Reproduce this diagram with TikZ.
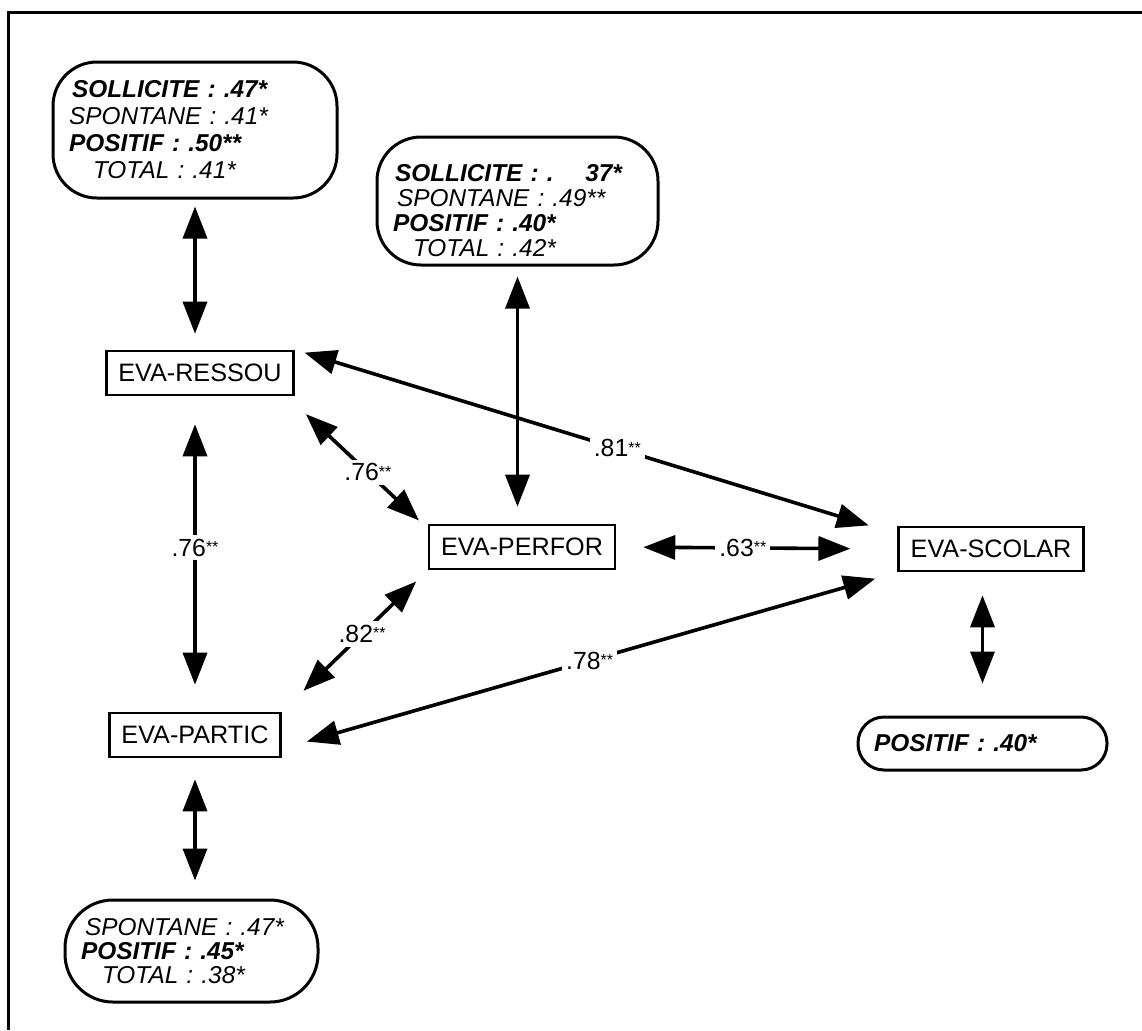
\documentclass[tikz,border=0pt]{standalone}
\usepackage{fontspec}
\setmainfont{Liberation Sans}
\usetikzlibrary{arrows.meta,positioning}

\newcommand{\stars}[1]{\raisebox{.3ex}{\footnotesize #1}}

\tikzset{
  varbox/.style={draw, line width=1.3pt, font=\fontsize{12.6}{14}\selectfont, inner xsep=6pt, minimum height=22pt},
  solbox/.style={draw, line width=1.5pt, rounded corners=22pt, align=left, inner xsep=8pt, font=\itshape\fontsize{12.2}{13.5}\selectfont},
  corr/.style={{Triangle[length=16pt,width=12pt]}-{Triangle[length=16pt,width=12pt]}, line width=1.8pt},
  coef/.style={fill=white, inner sep=2pt, font=\fontsize{12.4}{14}\selectfont},
}

\begin{document}
\begin{tikzpicture}[x=0.5pt,y=-0.5pt]
\useasboundingbox (0,0) rectangle (1142,1030);
\draw[line width=1.5pt] (8,1030) -- (8,12) -- (1142,12);

\node[varbox] (ressou) at (200,373) {EVA-RESSOU};
\node[varbox] (partic) at (195,735) {EVA-PARTIC};
\node[varbox] (perfor) at (522,547) {EVA-PERFOR};
\node[varbox] (scolar) at (991,549) {EVA-SCOLAR};

\node[solbox, text width=126pt, minimum height=68pt] (sol1) at (195,130)
  {\hspace*{1.5pt}\textbf{SOLLICITE : .47*}\\ SPONTANE : .41*\\ \textbf{POSITIF : .50**}\\ \hspace*{12pt}TOTAL : .41*};
\node[solbox, text width=124.5pt, minimum height=64pt, inner ysep=1pt, font=\itshape\fontsize{12.2}{12.5}\selectfont] (sol2) at (517.5,201)
  {\rule{0pt}{18pt}\hspace*{1pt}\textbf{SOLLICITE : .\hspace{1.3em}37*}\\ \hspace*{2pt}SPONTANE : .49**\\ \textbf{POSITIF : .40*}\\ \hspace*{10pt}TOTAL : .42*};
\node[solbox, rounded corners=24pt, text width=110.5pt, minimum height=51pt, font=\itshape\fontsize{12.2}{11.8}\selectfont] (sol3) at (191.5,951)
  {\hspace*{2pt}SPONTANE : .47*\\ \textbf{POSITIF : .45*}\\ \hspace*{10.5pt}TOTAL : .38*};
\node[solbox, rounded corners=13pt, text width=108.5pt, minimum height=26.5pt] (sol4) at (982.5,743.5)
  {\textbf{POSITIF : .40*}};

% links to the boxes
\draw[corr, shorten <=3.5pt, shorten >=8pt] (sol1.south) -- (sol1.south |- ressou.north);
\draw[corr, shorten <=5pt, shorten >=8.5pt] (sol2.south) -- (sol2.south |- perfor.north);
\draw[corr, shorten <=10.5pt, shorten >=9pt] (partic.south) -- (partic.south |- sol3.north);
\draw[corr, shorten <=11.5pt, shorten >=16pt] (sol4.north |- scolar.south) -- (sol4.north);

% correlations
\draw[corr, shorten <=14pt, shorten >=13.5pt] (partic.north |- ressou.south) -- (partic.north) node[coef, pos=.48] {.76\stars{**}};
\draw[corr, shorten <=13pt, shorten >=6pt] (ressou.-15) -- (perfor.169) node[coef, pos=.575] {.76\stars{**}};
\draw[corr, shorten <=15pt, shorten >=8pt] (partic.north east) -- (perfor.south west) node[coef, pos=.55] {.82\stars{**}};
\draw[corr, shorten <=5pt, shorten >=15pt] (ressou.north east) -- (scolar.171) node[coef, pos=.535] {.81\stars{**}};
\draw[corr, shorten <=13.5pt, shorten >=23.5pt] (perfor.east) -- (scolar.west) node[coef, pos=.45] {.63\stars{**}};
\draw[corr, shorten <=13pt, shorten >=11.5pt] (partic.-9) -- (scolar.south west) node[coef, midway] {.78\stars{**}};
\end{tikzpicture}
\end{document}
